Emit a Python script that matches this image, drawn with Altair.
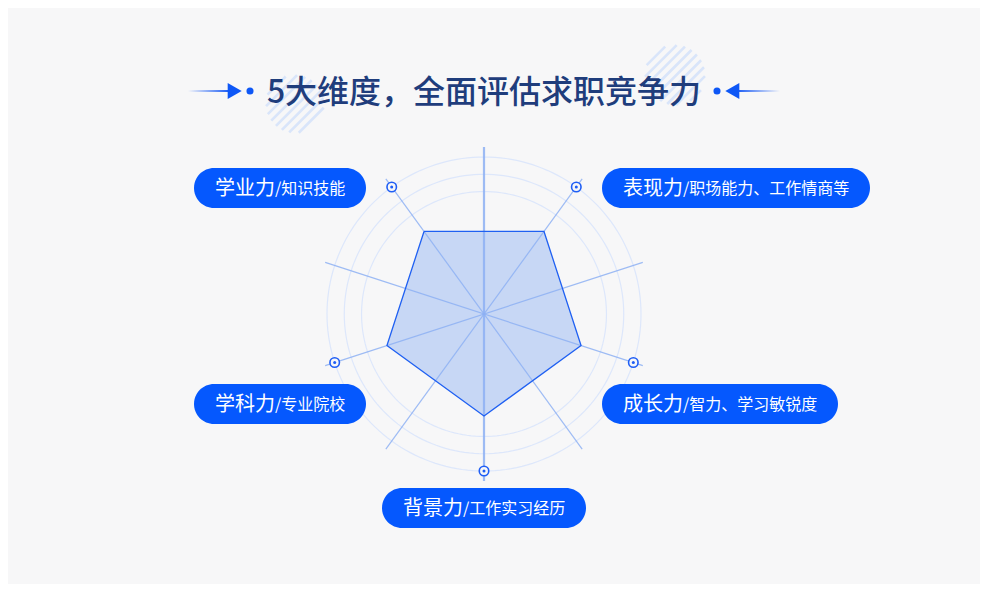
import math
import altair as alt
import pandas as pd

# ---------------- data ----------------
title_text = "5大维度，全面评估求职竞争力"
dimensions = ["学业力", "表现力", "成长力", "背景力", "学科力"]
descriptions = ["/知识技能", "/职场能力、工作情商等", "/智力、学习敏锐度", "/工作实习经历", "/专业院校"]
scores = [65, 65, 65, 65, 65]
grid_levels = [78, 89, 100]
max_score = 100

# ---------------- layout / style ----------------
W, H = 972, 576
CX, CY = 484, 314          # radar centre (page px)
R = 157                    # radius of max score
SPOKE = 167
BG = "#F7F7F8"
BLUE = "#0558FE"
NAVY = "#1F3D7C"

xs = alt.Scale(domain=[8, 8 + W], nice=False, zero=False)
ys = alt.Scale(domain=[8 + H, 8], nice=False, zero=False)
X = alt.X("x:Q", scale=xs, axis=None)
Y = alt.Y("y:Q", scale=ys, axis=None)


def polar(value, ang_deg):
    a = math.radians(ang_deg)
    r = value / max_score * R
    return CX + r * math.sin(a), CY - r * math.cos(a)


n = len(dimensions)
angles = [-36 + 360 / n * i for i in range(n)]

# grid rings
ring_rows = []
for lv in grid_levels:
    for k in range(181):
        x, y = polar(lv, k * 2)
        ring_rows.append({"ring": lv, "k": k, "x": x, "y": y})
rings = alt.Chart(pd.DataFrame(ring_rows)).mark_line(
    stroke="#DDE7FB", strokeWidth=1.2
).encode(x=X, y=Y, detail="ring:N", order="k:Q")

# spokes (full lines through the centre)
spoke_rows = []
for i, a in enumerate([0, 36, 72, 108, 144]):
    x1, y1 = polar(SPOKE / R * max_score, a)
    x2, y2 = polar(SPOKE / R * max_score, a + 180)
    spoke_rows.append({"x": x1, "y": y1, "x2": x2, "y2": y2,
                       "w": 2.2 if a == 0 else 1.2})
spokes = alt.Chart(pd.DataFrame(spoke_rows)).mark_rule(
    stroke="#8DB0F3", opacity=0.85
).encode(x=X, y=Y, x2="x2:Q", y2="y2:Q",
         strokeWidth=alt.StrokeWidth("w:Q", scale=None))

# polygon
poly_rows = []
for i, (d, s, a) in enumerate(zip(dimensions, scores, angles)):
    x, y = polar(s, a)
    poly_rows.append({"dim": d, "k": i, "x": x, "y": y})
poly_rows.append({**poly_rows[0], "k": n})
poly_df = pd.DataFrame(poly_rows)
poly_fill = alt.Chart(poly_df).mark_line(
    filled=True, color="#A9C4F3", opacity=0.62
).encode(x=X, y=Y, order="k:Q")
poly_line = alt.Chart(poly_df).mark_line(
    stroke="#1F60F2", strokeWidth=1.3
).encode(x=X, y=Y, order="k:Q")

# markers on the outer ring
mk_rows = []
for d, a in zip(dimensions, angles):
    x, y = polar(max_score, a)
    mk_rows.append({"dim": d, "x": x, "y": y})
mk_df = pd.DataFrame(mk_rows)
mk_outer = alt.Chart(mk_df).mark_point(
    shape="circle", size=90, filled=True, fill=BG, stroke="#1F5EF5",
    strokeWidth=1.6, opacity=1
).encode(x=X, y=Y)
mk_inner = alt.Chart(mk_df).mark_point(
    shape="circle", size=9, filled=True, color="#1F5EF5", opacity=1
).encode(x=X, y=Y)

# label pills
MAIN_FS, SUB_FS, PAD = 20, 16, 21
pill_pos = {  # anchor, reference x, centre y
    "学业力": ("right", 366, 188),
    "表现力": ("left", 602, 188),
    "成长力": ("left", 602, 404),
    "背景力": ("center", 484, 508),
    "学科力": ("right", 366, 404),
}
pill_rows = []
for d, desc in zip(dimensions, descriptions):
    anchor, rx, cy = pill_pos[d]
    w = PAD * 2 + MAIN_FS * len(d) + 6 + SUB_FS * (len(desc) - 1)
    if anchor == "right":
        x0 = rx - w
    elif anchor == "left":
        x0 = rx
    else:
        x0 = rx - w / 2
    pill_rows.append({"dim": d, "desc": desc, "x": x0, "x2": x0 + w,
                      "y": cy - 20, "y2": cy + 20, "cy": cy + 1,
                      "tx": x0 + PAD, "sx": x0 + PAD + MAIN_FS * len(d)})
pill_df = pd.DataFrame(pill_rows)
pills = alt.Chart(pill_df).mark_rect(color=BLUE, cornerRadius=20).encode(
    x=X, y=Y, x2="x2:Q", y2="y2:Q")
pill_main = alt.Chart(pill_df).mark_text(
    align="left", baseline="middle", color="white", fontSize=MAIN_FS,
    font="Noto Sans CJK SC", fontWeight=400
).encode(x=alt.X("tx:Q", scale=xs, axis=None),
         y=alt.Y("cy:Q", scale=ys, axis=None), text="dim:N")
pill_sub = alt.Chart(pill_df).mark_text(
    align="left", baseline="middle", color="white", fontSize=SUB_FS,
    font="Noto Sans CJK SC", fontWeight=400
).encode(x=alt.X("sx:Q", scale=xs, axis=None),
         y=alt.Y("cy:Q", scale=ys, axis=None), text="desc:N")

# hatched decorative discs behind the title
hatch_rows = []
for hid, (hx, hy, hr) in enumerate([(295, 104, 29), (675, 75, 30)]):
    d = -hr + 3
    j = 0
    while d < hr:
        half = math.sqrt(hr * hr - d * d)
        nx, ny = d / math.sqrt(2), d / math.sqrt(2)
        ux, uy = 1 / math.sqrt(2), -1 / math.sqrt(2)
        hatch_rows.append({"x": hx + nx - half * ux, "y": hy + ny - half * uy,
                           "x2": hx + nx + half * ux, "y2": hy + ny + half * uy,
                           "id": f"{hid}-{j}"})
        d += 7
        j += 1
hatch = alt.Chart(pd.DataFrame(hatch_rows)).mark_rule(
    stroke="#D9E5FA", strokeWidth=2.6
).encode(x=X, y=Y, x2="x2:Q", y2="y2:Q", detail="id:N")

# title
title_df = pd.DataFrame([{"x": 484, "y": 93, "t": title_text}])
title = alt.Chart(title_df).mark_text(
    align="center", baseline="middle", fontSize=32, fontWeight=500,
    color=NAVY, font="Noto Sans CJK SC"
).encode(x=X, y=Y, text="t:N")

# arrow decorations
grad_l = alt.Gradient(gradient="linear", x1=0, x2=1, y1=0, y2=0,
                      stops=[alt.GradientStop(color="#F7F7F8", offset=0),
                             alt.GradientStop(color="#1558F5", offset=1)])
grad_r = alt.Gradient(gradient="linear", x1=0, x2=1, y1=0, y2=0,
                      stops=[alt.GradientStop(color="#1558F5", offset=0),
                             alt.GradientStop(color="#F7F7F8", offset=1)])
bar_l = alt.Chart(pd.DataFrame([{"x": 188, "x2": 230, "y": 90, "y2": 92}])).mark_rect(
    fill=grad_l).encode(x=X, y=Y, x2="x2:Q", y2="y2:Q")
bar_r = alt.Chart(pd.DataFrame([{"x": 736, "x2": 780, "y": 90, "y2": 92}])).mark_rect(
    fill=grad_r).encode(x=X, y=Y, x2="x2:Q", y2="y2:Q")
tri_l = alt.Chart(pd.DataFrame([{"x": 234.5, "y": 91}])).mark_point(
    shape="M-0.85,-1L0.9,0L-0.85,1Z", size=256, filled=True, color="#0E57F6",
    opacity=1).encode(x=X, y=Y)
tri_r = alt.Chart(pd.DataFrame([{"x": 732.5, "y": 91}])).mark_point(
    shape="M0.85,-1L-0.9,0L0.85,1Z", size=256, filled=True, color="#0E57F6",
    opacity=1).encode(x=X, y=Y)
dots = alt.Chart(pd.DataFrame([{"x": 250, "y": 91}, {"x": 717, "y": 91}])).mark_point(
    shape="circle", size=50, filled=True, color="#0E57F6", opacity=1
).encode(x=X, y=Y)

chart = alt.layer(
    hatch, title, bar_l, bar_r, tri_l, tri_r, dots,
    rings, poly_fill, spokes, poly_line, mk_outer, mk_inner,
    pills, pill_main, pill_sub,
).properties(
    width=W, height=H, background=BG, padding=0,
    autosize=alt.AutoSizeParams(type="none"),
).configure_view(stroke=None, fill=BG)

chart.save("out.html", embed_options={"renderer": "svg", "actions": False})
